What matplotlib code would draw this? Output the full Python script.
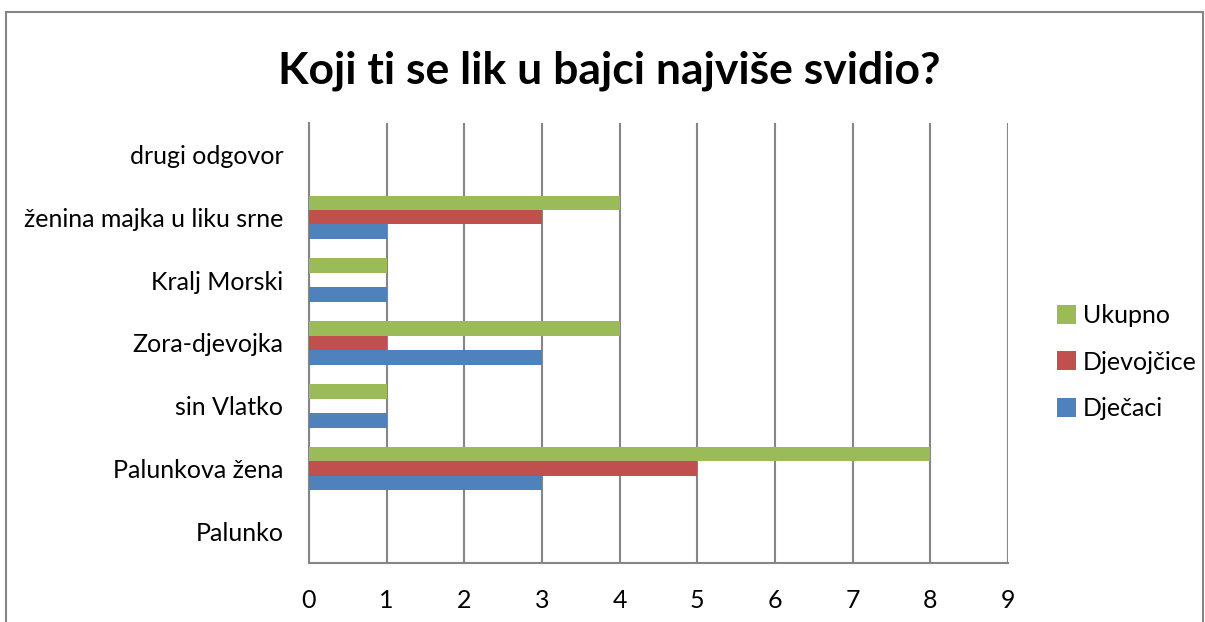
import numpy as np
import matplotlib.pyplot as plt
from matplotlib.patches import Rectangle

categories = ['Palunko', 'Palunkova žena', 'sin Vlatko', 'Zora-djevojka',
              'Kralj Morski', 'ženina majka u liku srne', 'drugi odgovor']
djecaci = [0, 3, 1, 3, 1, 1, 0]
djevojcice = [0, 5, 0, 1, 0, 3, 0]
ukupno = [0, 8, 1, 4, 1, 4, 0]
x_ticks = list(range(10))

plt.rcParams['font.family'] = ['Lato', 'DejaVu Sans']

fig = plt.figure(figsize=(12.05, 6.22), dpi=100)
ax = fig.add_axes([0.2564, 0.0949, 0.8365 - 0.2564, 0.8023 - 0.0949])

y = np.arange(len(categories))
h = 0.23
ax.barh(y - h, djecaci, height=h, color='#4F81BD', label='Dječaci', zorder=3)
ax.barh(y, djevojcice, height=h, color='#C0504D', label='Djevojčice', zorder=3)
ax.barh(y + h, ukupno, height=h, color='#9BBB59', label='Ukupno', zorder=3)

ax.set_xlim(0, 9)
ax.set_ylim(-0.5, len(categories) - 0.5)
ax.set_xticks(x_ticks)
ax.set_yticks(y)
ax.set_yticklabels(categories)
ax.tick_params(axis='both', length=0, labelsize=18, colors='black')
ax.tick_params(axis='x', pad=19)
ax.tick_params(axis='y', pad=18.5)
ax.grid(axis='x', color='#868686', linewidth=1.5, zorder=0)
for s in ['top', 'right']:
    ax.spines[s].set_visible(False)
for s in ['left', 'bottom']:
    ax.spines[s].set_color('#868686')
    ax.spines[s].set_linewidth(1.5)

handles, labels = ax.get_legend_handles_labels()
fig.legend(handles[::-1], labels[::-1], loc='center left',
           bbox_to_anchor=(0.877, 0.418), frameon=False, fontsize=18,
           handlelength=0.75, handleheight=0.8, handletextpad=0.3,
           labelspacing=0.95, borderpad=0, borderaxespad=0)

fig.text(0.506, 0.887, 'Koji ti se lik u bajci najviše svidio?', ha='center',
         va='center', fontsize=32, fontweight='bold')

fig.patches.append(Rectangle((6 / 1205, -0.05), 1197 / 1205, 1.05 - 12 / 622,
                             transform=fig.transFigure, fill=False,
                             edgecolor='#868686', linewidth=1.5))

fig.savefig('out.png', dpi=100)
